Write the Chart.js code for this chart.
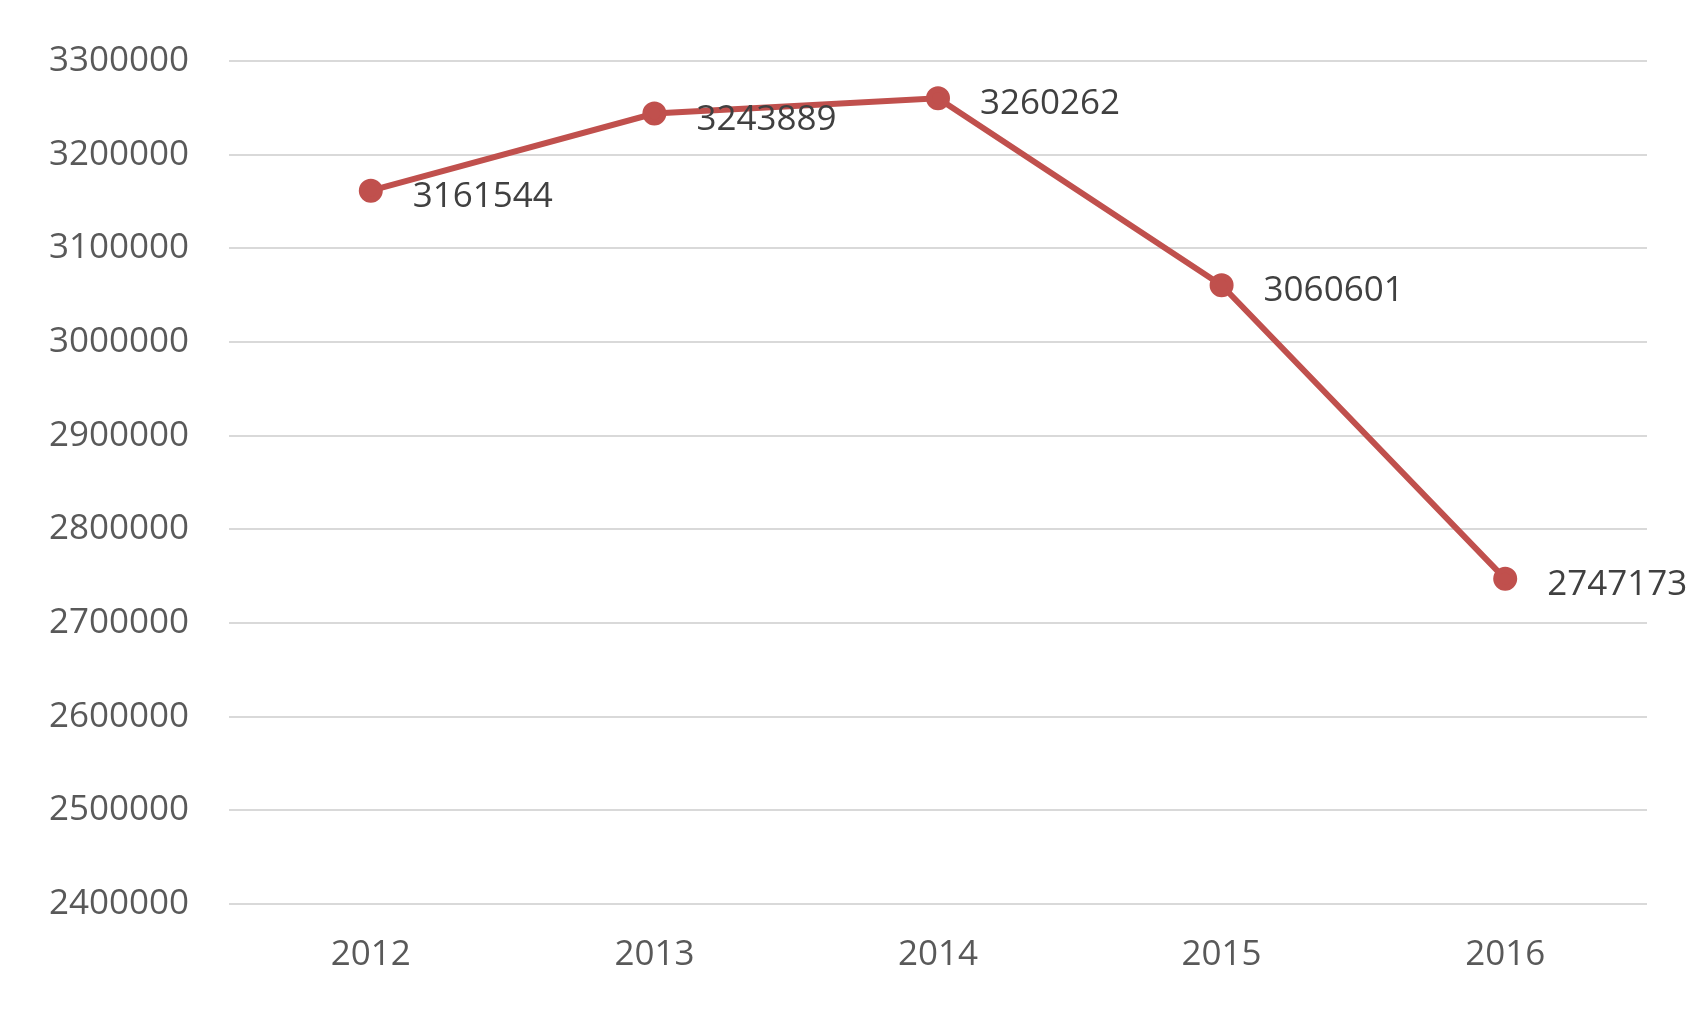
<!DOCTYPE html>
<html>
<head>
<meta charset="utf-8">
<script src="https://cdn.jsdelivr.net/npm/chart.js@4/dist/chart.umd.min.js"></script>
<style>
  html, body { margin: 0; padding: 0; background: #fff; }
  #wrap { width: 1701px; height: 1014px; }
</style>
</head>
<body>
<div id="wrap"><canvas id="chart"></canvas></div>
<script>
// data
const years = ["2012", "2013", "2014", "2015", "2016"];
const values = [3161544, 3243889, 3260262, 3060601, 2747173];
const yMin = 2400000;
const yMax = 3300000;
const yStep = 100000;

// value labels beside each point
const pointLabels = {
  id: "pointLabels",
  afterDatasetsDraw(chart) {
    const ctx = chart.ctx;
    const meta = chart.getDatasetMeta(0);
    ctx.save();
    ctx.font = "35px 'Open Sans'";
    ctx.fillStyle = "#404040";
    ctx.textBaseline = "middle";
    meta.data.forEach((pt, i) => {
      ctx.fillText(String(values[i]), pt.x + 42, pt.y + 6);
    });
    ctx.restore();
  }
};

new Chart(document.getElementById("chart"), {
  type: "line",
  data: {
    labels: years,
    datasets: [{
      data: values,
      borderColor: "#c0504d",
      backgroundColor: "#c0504d",
      borderWidth: 6,
      pointRadius: 9,
      tension: 0
    }]
  },
  options: {
    responsive: true,
    maintainAspectRatio: false,
    animation: false,
    layout: { padding: { top: 42, right: 54, bottom: 16, left: 0 } },
    plugins: { legend: { display: false }, tooltip: { enabled: false } },
    scales: {
      x: {
        offset: true,
        grid: { display: false },
        border: { display: false },
        ticks: { color: "#595959", font: { size: 35, family: "Open Sans" }, padding: 22 }
      },
      y: {
        min: yMin,
        max: yMax,
        ticks: {
          stepSize: yStep,
          color: "#595959",
          font: { size: 35, family: "Open Sans" },
          padding: 40,
          callback: v => String(v)
        },
        grid: { color: "#d9d9d9", lineWidth: 2, drawTicks: false },
        border: { display: false },
        afterFit(scale) { scale.width = 229; }
      }
    }
  },
  plugins: [pointLabels]
});
</script>
</body>
</html>
